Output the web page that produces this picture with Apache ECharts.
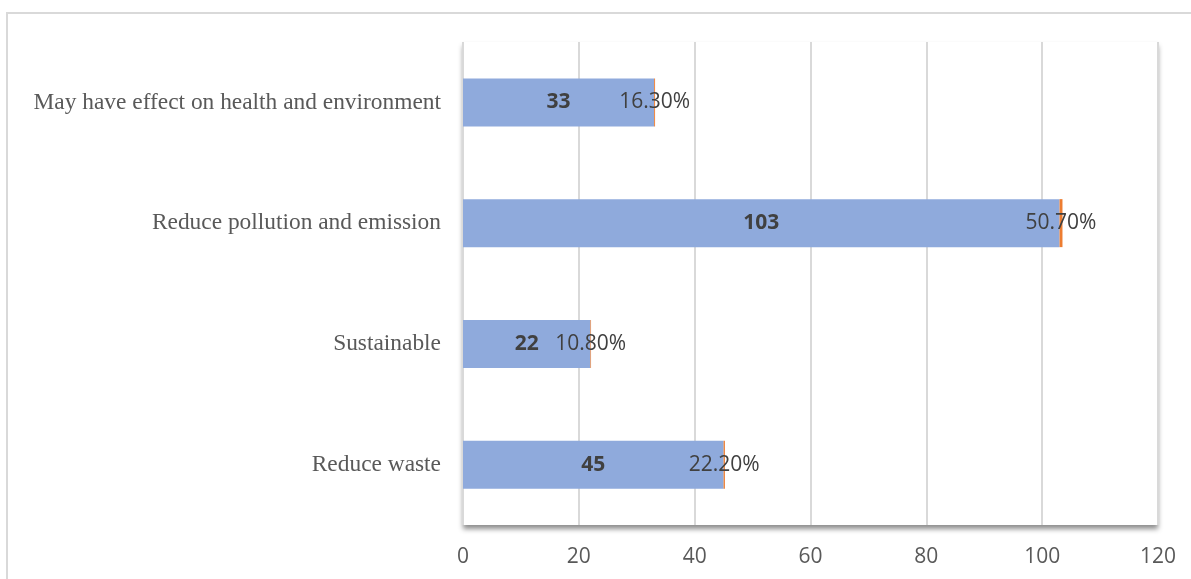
<!DOCTYPE html>
<html>
<head>
<meta charset="utf-8">
<script src="https://cdn.jsdelivr.net/npm/echarts@6/dist/echarts.min.js"></script>
<style>html,body{margin:0;padding:0;background:#fff}#c{width:1191px;height:579px}</style>
</head>
<body>
<div id="c"></div>
<script>
var categories = ['Reduce waste', 'Sustainable', 'Reduce pollution and emission', 'May have effect on health and environment'];
var counts = [45, 22, 103, 33];
var percents = [22.2, 10.8, 50.7, 16.3];
var xTicks = [0, 20, 40, 60, 80, 100, 120];

var chart = echarts.init(document.getElementById('c'), null, {renderer: 'canvas'});
chart.setOption({
  animation: false,
  backgroundColor: '#ffffff',
  graphic: [{
    type: 'rect', z: -10,
    shape: {x: 7, y: 13, width: 1300, height: 700},
    style: {fill: 'none', stroke: '#d9d9d9', lineWidth: 2}
  }],
  grid: {
    left: 463, right: 33, top: 42, bottom: 54,
    show: true, backgroundColor: '#ffffff', borderWidth: 0,
    shadowColor: 'rgba(0,0,0,0.45)', shadowBlur: 5, shadowOffsetX: 0, shadowOffsetY: 4
  },
  xAxis: {
    type: 'value', min: 0, max: 120, interval: 20,
    axisLine: {show: false}, axisTick: {show: false},
    splitLine: {show: true, lineStyle: {color: '#d9d9d9', width: 2}},
    axisLabel: {color: '#595959', fontFamily: 'Open Sans', fontSize: 21, margin: 22,
      formatter: function (v) { return xTicks.indexOf(v) >= 0 ? String(v) : ''; }}
  },
  yAxis: {
    type: 'category', data: categories,
    axisLine: {show: false}, axisTick: {show: false},
    axisLabel: {color: '#595959', fontFamily: 'Liberation Serif', fontSize: 23.4, margin: 22}
  },
  series: [{
    type: 'bar', stack: 's', barWidth: 48,
    data: counts,
    itemStyle: {color: '#8faadc'},
    label: {show: true, position: 'inside', color: '#404040', fontWeight: 'bold',
      fontFamily: 'Open Sans', fontSize: 21}
  }, {
    type: 'bar', stack: 's', barWidth: 48,
    data: percents.map(function (p) { return p / 100; }),
    itemStyle: {color: '#ed7d31'},
    label: {show: true, position: 'inside', color: '#404040', fontFamily: 'Open Sans', fontSize: 21,
      formatter: function (p) { return percents[p.dataIndex].toFixed(2) + '%'; }}
  }]
});
</script>
</body>
</html>
